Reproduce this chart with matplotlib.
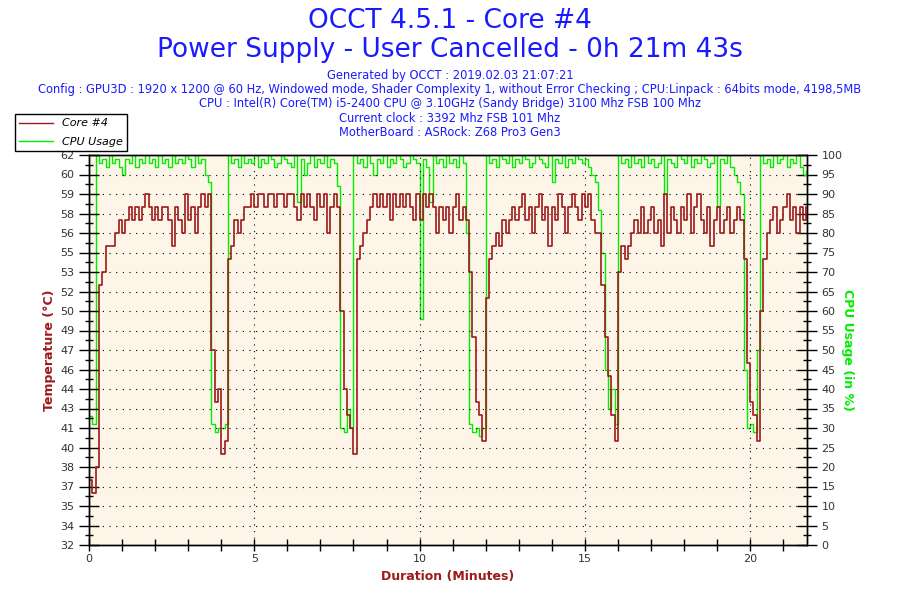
import numpy as np
import matplotlib
matplotlib.use('Agg')
import matplotlib.pyplot as plt
from matplotlib.lines import Line2D

# one sample every 0.1 minute
step = 0.1
core4 = [
    37, 36, 38, 52, 53, 55, 55, 55, 56, 57,   # 0
    56, 57, 58, 57, 58, 57, 58, 59, 58, 57,   # 1
    58, 57, 58, 58, 57, 55, 58, 57, 56, 59,   # 2
    57, 58, 56, 58, 59, 58, 59, 47, 43, 44,   # 3
    39, 40, 54, 55, 57, 56, 57, 58, 58, 59,   # 4
    58, 59, 59, 58, 59, 59, 58, 59, 59, 58,   # 5
    59, 59, 58, 57, 59, 58, 59, 58, 57, 59,   # 6
    58, 59, 56, 58, 59, 58, 50, 44, 42, 41,   # 7
    39, 54, 55, 56, 57, 58, 59, 58, 59, 58,   # 8
    59, 57, 59, 58, 59, 58, 59, 58, 57, 59,   # 9
    57, 59, 58, 59, 58, 56, 58, 57, 58, 56,   # 10
    58, 59, 57, 58, 57, 53, 48, 43, 42, 40,   # 11
    51, 54, 55, 56, 55, 57, 56, 57, 58, 57,   # 12
    58, 59, 57, 58, 56, 58, 59, 57, 58, 55,   # 13
    58, 57, 59, 58, 56, 58, 59, 58, 57, 59,   # 14
    58, 59, 57, 56, 56, 52, 48, 45, 42, 40,   # 15
    53, 55, 54, 55, 56, 57, 56, 58, 56, 57,   # 16
    58, 56, 57, 55, 59, 56, 58, 57, 56, 58,   # 17
    57, 59, 56, 58, 59, 57, 56, 58, 55, 57,   # 18
    58, 56, 57, 58, 56, 57, 58, 57, 54, 46,   # 19
    43, 42, 40, 50, 54, 56, 57, 58, 56, 57,   # 20
    58, 59, 57, 58, 56, 58, 57, 58,           # 21
]
cpu_usage = [
    33, 31, 100, 98, 99, 97, 100, 98, 99, 97,
    95, 99, 98, 100, 97, 99, 98, 100, 98, 99,
    97, 100, 98, 99, 97, 100, 98, 99, 98, 100,
    99, 97, 100, 98, 99, 95, 93, 31, 29, 30,
    30, 31, 100, 98, 99, 97, 100, 98, 99, 98,
    100, 97, 99, 98, 100, 99, 97, 98, 100, 99,
    98, 97, 100, 88, 99, 95, 98, 100, 97, 99,
    98, 100, 97, 99, 98, 92, 30, 29, 35, 30,
    100, 98, 99, 97, 100, 98, 95, 99, 98, 100,
    97, 99, 98, 100, 99, 97, 98, 100, 99, 98,
    58, 99, 97, 88, 100, 98, 99, 97, 100, 98,
    99, 97, 100, 98, 80, 31, 29, 30, 28, 30,
    100, 98, 99, 97, 100, 99, 98, 100, 97, 99,
    98, 100, 99, 97, 98, 100, 99, 98, 97, 100,
    93, 99, 98, 100, 97, 99, 98, 100, 99, 98,
    99, 97, 95, 93, 86, 75, 45, 35, 40, 31,
    100, 98, 99, 97, 100, 98, 99, 97, 100, 98,
    99, 97, 98, 100, 90, 99, 98, 97, 100, 99,
    98, 100, 97, 99, 98, 100, 99, 97, 98, 100,
    87, 99, 98, 100, 97, 95, 93, 90, 45, 30,
    31, 29, 50, 100, 98, 99, 97, 100, 98, 99,
    100, 97, 99, 98, 100, 97, 95, 96,
]
temp_tick_labels = ['32', '34', '35', '37', '38', '40', '41', '43', '44', '46', '47',
                    '49', '50', '52', '53', '55', '56', '58', '59', '60', '62']
header = ['Generated by OCCT : 2019.02.03 21:07:21',
          'Config : GPU3D : 1920 x 1200 @ 60 Hz, Windowed mode, Shader Complexity 1, '
          'without Error Checking ; CPU:Linpack : 64bits mode, 4198,5MB',
          'CPU : Intel(R) Core(TM) i5-2400 CPU @ 3.10GHz (Sandy Bridge) 3100 Mhz FSB 100 Mhz',
          'Current clock : 3392 Mhz FSB 101 Mhz',
          'MotherBoard : ASRock: Z68 Pro3 Gen3']

t = np.arange(len(core4)) * step
red = '#9e1a1a'
green = '#00ee00'
blue = '#1a1aff'
cream = '#fdf6e8'

fig = plt.figure(figsize=(9, 6), dpi=100)
ax = fig.add_axes([89 / 900, 55 / 600, 718 / 900, 390 / 600])
ax2 = ax.twinx()
# temperature on top of usage
ax.set_zorder(2)
ax2.set_zorder(1)
ax.patch.set_visible(False)
ax2.patch.set_visible(True)
ax2.patch.set_facecolor(cream)

ax2.plot(t, cpu_usage, color=green, lw=1, drawstyle='steps-post')
ax.plot(t, core4, color=red, lw=1.2, drawstyle='steps-post')

ax.set_xlim(0, 21.72)
ax.set_ylim(32, 62)
ax2.set_ylim(0, 100)

ax.set_yticks(np.linspace(32, 62, 21))
ax.set_yticklabels(temp_tick_labels)
ax.set_yticks(np.linspace(32.75, 61.25, 20), minor=True)
ax2.set_yticks(np.arange(0, 101, 5))
ax2.set_yticks(np.arange(2.5, 100, 5), minor=True)
ax.set_xticks([0, 5, 10, 15, 20])
ax.set_xticks(np.arange(0, 22, 1), minor=True)

for a in (ax, ax2):
    a.tick_params(which='major', direction='inout', length=14, width=1,
                  labelsize=8, colors='black', labelcolor='#333333')
    a.tick_params(which='minor', direction='inout', length=6, width=1)
ax.tick_params(axis='x', which='both', length=9, pad=2)
for sp in list(ax.spines.values()) + list(ax2.spines.values()):
    sp.set_color('black')
    sp.set_linewidth(1)

ax.grid(True, axis='y', which='major', color='black', lw=0.8, linestyle=(0, (1, 5)))
ax.grid(True, axis='x', which='major', color='black', lw=0.8, linestyle=(0, (1, 5)))

ax.set_ylabel('Temperature (°C)', color=red, fontweight='bold', fontsize=9, labelpad=3)
ax2.set_ylabel('CPU Usage (in %)', color=green, fontweight='bold', fontsize=9,
               rotation=270, labelpad=8)
ax.set_xlabel('Duration (Minutes)', color=red, fontweight='bold', fontsize=9, labelpad=4)

fig.text(0.5, 1 - 21 / 600, 'OCCT 4.5.1 - Core #4', ha='center', va='center',
         fontsize=19, color=blue)
fig.text(0.5, 1 - 50 / 600, 'Power Supply - User Cancelled - 0h 21m 43s', ha='center',
         va='center', fontsize=19, color=blue)
for i, line in enumerate(header):
    fig.text(0.5, 1 - (76 + i * 14) / 600, line, ha='center', va='center',
             fontsize=8.3, color=blue)

handles = [Line2D([], [], color=red, lw=1), Line2D([], [], color=green, lw=1)]
leg = fig.legend(handles, ['Core #4', 'CPU Usage'], loc='upper left',
                 bbox_to_anchor=(15 / 900, 1 - 114 / 600), fancybox=False,
                 framealpha=1, edgecolor='black', prop={'size': 8, 'style': 'italic'},
                 handlelength=3, borderpad=0.4, labelspacing=0.75, borderaxespad=0)
leg.get_frame().set_linewidth(1)

fig.savefig('out.png', dpi=100, facecolor='white')
